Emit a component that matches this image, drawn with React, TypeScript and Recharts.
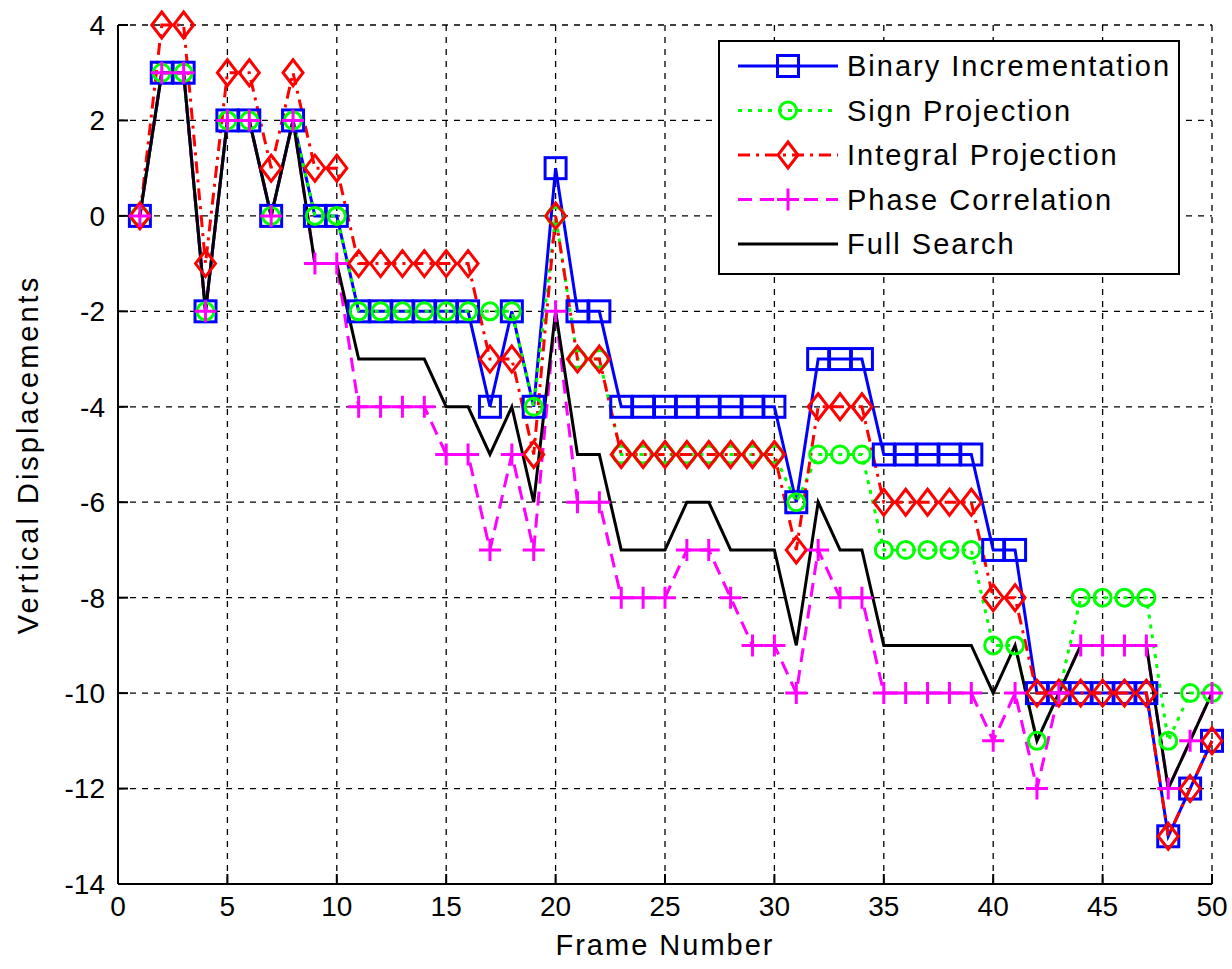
import React, { useEffect } from 'react';
import { LineChart, Line, XAxis, YAxis, CartesianGrid, Label } from 'recharts';

const frames = [
  1, 2, 3, 4, 5, 6, 7, 8, 9, 10, 11, 12, 13, 14, 15, 16, 17, 18, 19, 20, 21, 22, 23, 24, 25,
  26, 27, 28, 29, 30, 31, 32, 33, 34, 35, 36, 37, 38, 39, 40, 41, 42, 43, 44, 45, 46, 47, 48, 49, 50,
];

const binaryIncrementation = [
  0, 3, 3, -2, 2, 2, 0, 2, 0, 0, -2, -2, -2, -2, -2, -2, -4, -2, -4, 1, -2, -2, -4, -4, -4,
  -4, -4, -4, -4, -4, -6, -3, -3, -3, -5, -5, -5, -5, -5, -7, -7, -10, -10, -10, -10, -10, -10, -13, -12, -11,
];

const signProjection = [
  0, 3, 3, -2, 2, 2, 0, 2, 0, 0, -2, -2, -2, -2, -2, -2, -2, -2, -4, 0, -3, -3, -5, -5, -5,
  -5, -5, -5, -5, -5, -6, -5, -5, -5, -7, -7, -7, -7, -7, -9, -9, -11, -10, -8, -8, -8, -8, -11, -10, -10,
];

const integralProjection = [
  0, 4, 4, -1, 3, 3, 1, 3, 1, 1, -1, -1, -1, -1, -1, -1, -3, -3, -5, 0, -3, -3, -5, -5, -5,
  -5, -5, -5, -5, -5, -7, -4, -4, -4, -6, -6, -6, -6, -6, -8, -8, -10, -10, -10, -10, -10, -10, -13, -12, -11,
];

const phaseCorrelation = [
  0, 3, 3, -2, 2, 2, 0, 2, -1, -1, -4, -4, -4, -4, -5, -5, -7, -5, -7, -2, -6, -6, -8, -8, -8,
  -7, -7, -8, -9, -9, -10, -7, -8, -8, -10, -10, -10, -10, -10, -11, -10, -12, -10, -9, -9, -9, -9, -12, -11, -10,
];

const fullSearch = [
  0, 3, 3, -2, 2, 2, 0, 2, -1, -1, -3, -3, -3, -3, -4, -4, -5, -4, -6, -2, -5, -5, -7, -7, -7,
  -6, -6, -7, -7, -7, -9, -6, -7, -7, -9, -9, -9, -9, -9, -10, -9, -11, -10, -9, -9, -9, -9, -12, -11, -10,
];

const xTicks = [0, 5, 10, 15, 20, 25, 30, 35, 40, 45, 50];
const yTicks = [-14, -12, -10, -8, -6, -4, -2, 0, 2, 4];

const data = frames.map((frame, i) => ({
  frame,
  binary: binaryIncrementation[i],
  sign: signProjection[i],
  integral: integralProjection[i],
  phase: phaseCorrelation[i],
  full: fullSearch[i],
}));

const FONT = '"Liberation Sans", Arial, Helvetica, sans-serif';

type MarkerKind = 'square' | 'circle' | 'diamond' | 'plus' | 'none';

const series: { key: string; name: string; color: string; dash?: string; marker: MarkerKind }[] = [
  { key: 'binary', name: 'Binary Incrementation', color: '#0000ff', marker: 'square' },
  { key: 'sign', name: 'Sign Projection', color: '#00ff00', dash: '4 6', marker: 'circle' },
  { key: 'integral', name: 'Integral Projection', color: '#ff0000', dash: '12 6 3 6', marker: 'diamond' },
  { key: 'phase', name: 'Phase Correlation', color: '#ff00ff', dash: '14 8', marker: 'plus' },
  { key: 'full', name: 'Full Search', color: '#000000', marker: 'none' },
];

function MarkerShape({ kind, cx, cy, color }: { kind: MarkerKind; cx: number; cy: number; color: string }) {
  if (cx == null || cy == null) return <g />;
  switch (kind) {
    case 'square':
      return <rect x={cx - 10.5} y={cy - 10.5} width={21} height={21} fill="none" stroke={color} strokeWidth={3} />;
    case 'circle':
      return <circle cx={cx} cy={cy} r={8.5} fill="none" stroke={color} strokeWidth={3} />;
    case 'diamond':
      return (
        <polygon
          points={`${cx},${cy - 13} ${cx + 10},${cy} ${cx},${cy + 13} ${cx - 10},${cy}`}
          fill="none"
          stroke={color}
          strokeWidth={3}
        />
      );
    case 'plus':
      return <path d={`M${cx - 11},${cy}H${cx + 11}M${cx},${cy - 11}V${cy + 11}`} stroke={color} strokeWidth={3} />;
    default:
      return <g />;
  }
}

// legend drawn over the plot, like matlab's 'NorthEast' legend box
function LegendBox() {
  return (
    <svg width={462} height={235} style={{ display: 'block' }}>
      <rect x={1} y={1} width={460} height={233} fill="#fff" stroke="#000" strokeWidth={2} />
      {series.map((s, i) => {
        const y = 26 + i * 44.5;
        return (
          <g key={s.key}>
            <line x1={20} x2={120} y1={y} y2={y} stroke={s.color} strokeWidth={3} strokeDasharray={s.dash} />
            <MarkerShape kind={s.marker} cx={70} cy={y} color={s.color} />
            <text x={129} y={y} dy="0.36em" fontSize={29} fontFamily={FONT} letterSpacing={2} fill="#000">
              {s.name}
            </text>
          </g>
        );
      })}
    </svg>
  );
}

const tickStyle = { fontSize: 28, fill: '#000', fontFamily: FONT };

export default function App() {
  // no scrollbars: the chart takes the whole window
  useEffect(() => {
    document.documentElement.style.overflow = 'hidden';
    document.body.style.margin = '0';
  }, []);

  return (
    <div style={{ position: 'relative', width: 1232, height: 969, background: '#fff', overflow: 'hidden' }}>
      <LineChart width={1232} height={969} data={data} margin={{ top: 25, right: 20, left: 0, bottom: 0 }}>
        <CartesianGrid stroke="#000" strokeWidth={1.3} strokeDasharray="6 6" />
        <XAxis
          dataKey="frame"
          type="number"
          domain={[0, 50]}
          ticks={xTicks}
          height={85}
          tickSize={-10}
          tickMargin={22}
          tick={tickStyle}
          stroke="#000"
          strokeWidth={2}
          interval={0}
        >
          <Label
            value="Frame Number"
            position="insideBottom"
            offset={14}
            style={{ fontSize: 29, fontFamily: FONT, fill: '#000', letterSpacing: 2 }}
          />
        </XAxis>
        <XAxis
          xAxisId="top"
          orientation="top"
          type="number"
          domain={[0, 50]}
          ticks={xTicks}
          height={0}
          tickSize={-10}
          tick={false}
          stroke="#000"
          strokeWidth={2}
          interval={0}
        />
        <YAxis
          type="number"
          domain={[-14, 4]}
          ticks={yTicks}
          width={118}
          tickSize={-10}
          tickMargin={23}
          tick={tickStyle}
          stroke="#000"
          strokeWidth={2}
          interval={0}
        >
          <Label
            value="Vertical Displacements"
            angle={-90}
            position="insideLeft"
            offset={28}
            style={{ textAnchor: 'middle', fontSize: 29, fontFamily: FONT, fill: '#000', letterSpacing: 3 }}
          />
        </YAxis>
        <YAxis
          yAxisId="right"
          orientation="right"
          type="number"
          domain={[-14, 4]}
          ticks={yTicks}
          width={0}
          tickSize={-10}
          tick={false}
          stroke="#000"
          strokeWidth={2}
          interval={0}
        />
        {series.map((s) => (
          <Line
            key={s.key}
            dataKey={s.key}
            name={s.name}
            type="linear"
            stroke={s.color}
            strokeWidth={3}
            strokeDasharray={s.dash}
            isAnimationActive={false}
            activeDot={false}
            dot={
              s.marker === 'none'
                ? false
                : (p: any) => <MarkerShape key={`${s.key}-${p.index}`} kind={s.marker} cx={p.cx} cy={p.cy} color={s.color} />
            }
          />
        ))}
      </LineChart>
      <div style={{ position: 'absolute', top: 40, left: 718 }}>
        <LegendBox />
      </div>
    </div>
  );
}
